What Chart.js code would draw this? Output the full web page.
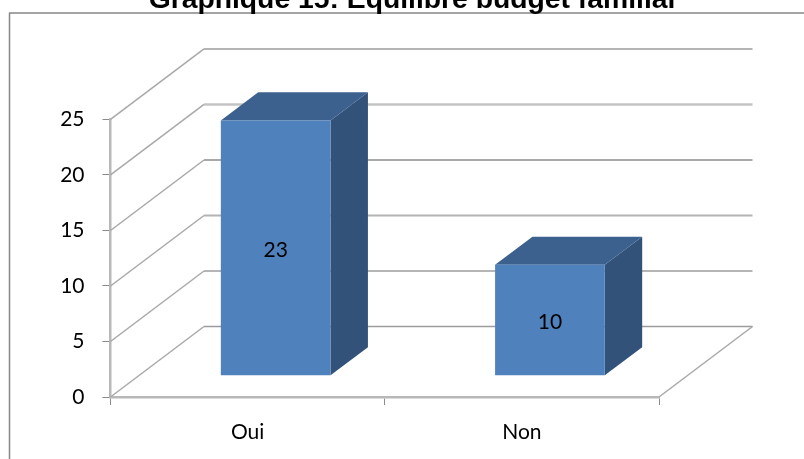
<!DOCTYPE html>
<html>
<head>
<meta charset="utf-8">
<style>html,body{margin:0;padding:0;background:#fff;overflow:hidden}canvas{display:block}</style>
<script src="https://cdn.jsdelivr.net/npm/chart.js@4"></script>
</head>
<body>
<canvas id="c" width="804" height="459"></canvas>
<script>
const titleText = "Graphique 15: Equilibre budget familial";
const categories = ["Oui", "Non"];
const values = [23, 10];
const axisMin = 0;
const axisMax = 25;
const axisStep = 5;

const WALL = {dx: 93.5, dy: -70.5};
const DEPTH = {front: 0.3, back: 0.7};
const TITLE_CENTER = 412;
const wallStyle = {
  25: ["#b4b4b4", 2],
  20: ["#c4c4c4", 2.4],
  15: ["#8c8c8c", 1.3],
  10: ["#b4b4b4", 2],
  5: ["#9c9c9c", 1.5],
  0: ["#9c9c9c", 1.5]
};
const SIDE_LINE = "#a8a8a8";
const FRAME = "#868686";
const FRONT = "#4f81bd";
const TOP = "#3c618f";
const SIDE = "#325279";

function line(ctx, x1, y1, x2, y2, color, w) {
  ctx.strokeStyle = color;
  ctx.lineWidth = w;
  ctx.beginPath();
  ctx.moveTo(x1, y1);
  ctx.lineTo(x2, y2);
  ctx.stroke();
}
function poly(ctx, pts, color) {
  ctx.fillStyle = color;
  ctx.beginPath();
  pts.forEach((p, i) => i ? ctx.lineTo(p[0], p[1]) : ctx.moveTo(p[0], p[1]));
  ctx.closePath();
  ctx.fill();
}

const pseudo3d = {
  id: "pseudo3d",
  afterLayout(chart) {
    chart.titleBlock.left = 0;
    chart.titleBlock.right = TITLE_CENTER * 2;
  },
  beforeDraw(chart) {
    const ctx = chart.ctx;
    ctx.save();
    ctx.fillStyle = "#fff";
    ctx.fillRect(0, 0, chart.width, chart.height);
    line(ctx, 9.5, chart.height, 9.5, 13, FRAME, 1.5);
    line(ctx, 9, 13, chart.width, 13, FRAME, 1.5);
    ctx.restore();
  },
  beforeDatasetsDraw(chart) {
    const ctx = chart.ctx, a = chart.chartArea, y = chart.scales.y;
    ctx.save();
    y.ticks.forEach(t => {
      const py = y.getPixelForValue(t.value);
      const s = wallStyle[t.value];
      line(ctx, a.left, py, a.left + WALL.dx, py + WALL.dy, SIDE_LINE, 1.5);
      line(ctx, a.left + WALL.dx, py + WALL.dy, a.right + WALL.dx, py + WALL.dy, s[0], s[1]);
    });
    line(ctx, a.right, a.bottom, a.right + WALL.dx, a.bottom + WALL.dy, SIDE_LINE, 1.5);
    const meta = chart.getDatasetMeta(0);
    const fx = WALL.dx * DEPTH.front, fy = WALL.dy * DEPTH.front;
    const bx = WALL.dx * (DEPTH.back - DEPTH.front), by = WALL.dy * (DEPTH.back - DEPTH.front);
    meta.data.forEach(b => {
      const l = b.x - b.width / 2 + fx, r = b.x + b.width / 2 + fx;
      const t = b.y + fy, o = b.base + fy;
      poly(ctx, [[r, t], [r + bx, t + by], [r + bx, o + by], [r, o]], SIDE);
      poly(ctx, [[l, t], [l + bx, t + by], [r + bx, t + by], [r, t]], TOP);
    });
    ctx.restore();
  },
  beforeDatasetDraw(chart) {
    chart.ctx.save();
    chart.ctx.translate(WALL.dx * DEPTH.front, WALL.dy * DEPTH.front);
  },
  afterDatasetDraw(chart) {
    chart.ctx.restore();
  },
  afterDatasetsDraw(chart) {
    const ctx = chart.ctx;
    const meta = chart.getDatasetMeta(0);
    ctx.save();
    ctx.fillStyle = "#000";
    ctx.font = "21px Lato";
    ctx.textAlign = "center";
    ctx.textBaseline = "middle";
    meta.data.forEach((b, i) => {
      const x = b.x + WALL.dx * DEPTH.front;
      const yc = (b.y + b.base) / 2 + WALL.dy * DEPTH.front + 2;
      ctx.fillText(String(values[i]), x, yc);
    });
    ctx.restore();
  }
};

new Chart(document.getElementById("c"), {
  type: "bar",
  data: {
    labels: categories,
    datasets: [{
      data: values,
      backgroundColor: FRONT,
      borderWidth: 0,
      barPercentage: 0.4,
      categoryPercentage: 1,
      clip: false
    }]
  },
  options: {
    responsive: false,
    animation: false,
    layout: {padding: {left: 0, right: 145, top: 90, bottom: 0}},
    plugins: {
      legend: {display: false},
      tooltip: {enabled: false},
      title: {
        display: true,
        text: titleText,
        color: "#000",
        font: {family: "'Liberation Sans'", size: 28.3, weight: "bold"},
        padding: {top: -107, bottom: 102.5}
      }
    },
    scales: {
      x: {
        afterFit(s) { s.height = 62; },
        border: {display: true, color: "#b8b8b8", width: 2.5},
        grid: {display: true, drawOnChartArea: false, drawTicks: true, tickLength: 8, color: "#8a8a8a", lineWidth: 1},
        ticks: {color: "#000", font: {family: "Lato", size: 21}, padding: 15, maxRotation: 0}
      },
      y: {
        min: axisMin,
        max: axisMax,
        afterFit(s) { s.width = 110.5; },
        border: {display: true, color: "#b8b8b8", width: 2.5},
        grid: {display: true, drawOnChartArea: false, drawTicks: true, tickLength: 8, color: "#8a8a8a", lineWidth: 1},
        ticks: {stepSize: axisStep, color: "#000", font: {family: "Lato", size: 21}, padding: 18}
      }
    }
  },
  plugins: [pseudo3d]
});
</script>
</body>
</html>
